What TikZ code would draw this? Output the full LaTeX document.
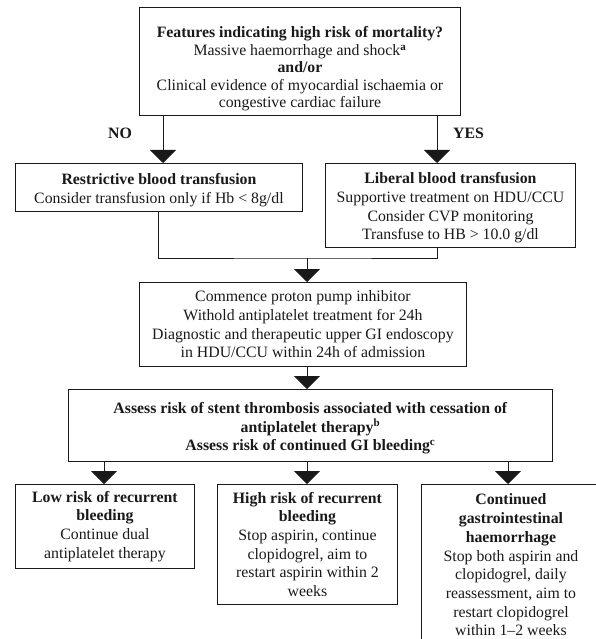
\documentclass[tikz,border=0pt]{standalone}
\usepackage{fontspec}
\setmainfont{Liberation Serif}
\usetikzlibrary{arrows.meta}
\tikzset{
  x=1pt, y=-1pt,
  flowbox/.style={draw=black!90, line width=0.9pt, inner sep=0pt, align=center, anchor=north west,
    font=\fontsize{15.8}{18.7}\selectfont, text=black!90},
  conn/.style={draw=black!90, line width=0.9pt},
  arr/.style={conn, -{Triangle[width=26pt,length=13pt]}},
  lbl/.style={font=\fontsize{15.8}{18.7}\selectfont\bfseries, text=black!90, inner sep=0pt}
}
\newcommand{\sps}[1]{\textsuperscript{\bfseries #1}}
\begin{document}
\begin{tikzpicture}
\useasboundingbox (0,0) rectangle (595,639);

\node[flowbox, minimum width=321pt, minimum height=108pt, font=\fontsize{15.8}{17.5}\selectfont] (top) at (139,7)
  {\rule{0pt}{26pt}\textbf{Features indicating high risk of mortality?}\\
   Massive haemorrhage and shock\sps{a}\\
   \textbf{and/or}\\
   Clinical evidence of myocardial ischaemia or\\
   congestive cardiac failure};

\node[flowbox, minimum width=287pt, minimum height=48pt] (restr) at (15,163)
  {\rule{0pt}{16pt}\textbf{Restrictive blood transfusion}\\
   Consider transfusion only if Hb {\textless} 8g/dl};

\node[flowbox, minimum width=250pt, minimum height=84pt] (liberal) at (325,163)
  {\rule{0pt}{16pt}\textbf{Liberal blood transfusion}\\
   Supportive treatment on HDU/CCU\\
   Consider CVP monitoring\\
   Transfuse to HB {\textgreater} 10.0 g/dl};

\node[flowbox, minimum width=327pt, minimum height=84pt] (ppi) at (139,282)
  {Commence proton pump inhibitor\\
   Withold antiplatelet treatment for 24h\\
   Diagnostic and therapeutic upper GI endoscopy\\
   in HDU/CCU within 24h of admission};

\node[flowbox, minimum width=484pt, minimum height=72pt] (assess) at (68,389)
  {\rule{0pt}{17pt}\textbf{Assess risk of stent thrombosis associated with cessation of}\\
   \textbf{antiplatelet therapy}\sps{b}\\
   \textbf{Assess risk of continued GI bleeding}\sps{c}};

\node[flowbox, minimum width=179pt, minimum height=84pt] (low) at (15,484)
  {\textbf{Low risk of recurrent}\\
   \textbf{bleeding}\\
   Continue dual\\
   antiplatelet therapy};

\node[flowbox, minimum width=180pt, minimum height=120pt] (high) at (217,484)
  {\textbf{High risk of recurrent}\\
   \textbf{bleeding}\\
   Stop aspirin, continue\\
   clopidogrel, aim to\\
   restart aspirin within 2\\
   weeks};

\node[flowbox, minimum width=179pt, minimum height=161pt] (cont) at (421,484)
  {\textbf{Continued}\\
   \textbf{gastrointestinal}\\
   \textbf{haemorrhage}\\
   Stop both aspirin and\\
   clopidogrel, daily\\
   reassessment, aim to\\
   restart clopidogrel\\
   within 1--2 weeks};

\node[lbl, anchor=east] (no) at (132,133) {NO};
\node[lbl, anchor=west] (yes) at (453,133) {YES};

% guide coordinates for connector x positions
\coordinate (xl) at (163,0);
\coordinate (xr) at (437,0);
\coordinate (xrl) at (158,0);
\coordinate (xm) at (307,0);
\coordinate (xb1) at (104,0);
\coordinate (xb3) at (508,0);
\coordinate (join) at (307,258);

\draw[arr] (top.south -| xl) -- (restr.north -| xl);
\draw[arr] (top.south -| xr) -- (liberal.north -| xr);
\draw[conn] (restr.south -| xrl) |- (join) -| (liberal.south -| xr);
\draw[arr] (join) -- (ppi.north -| join);
\draw[arr] (ppi.south -| xm) -- (assess.north -| xm);
\draw[arr] (assess.south -| xb1) -- (low.north -| xb1);
\draw[arr] (assess.south -| xm) -- (high.north -| xm);
\draw[arr] (assess.south -| xb3) -- (cont.north -| xb3);
\end{tikzpicture}
\end{document}
